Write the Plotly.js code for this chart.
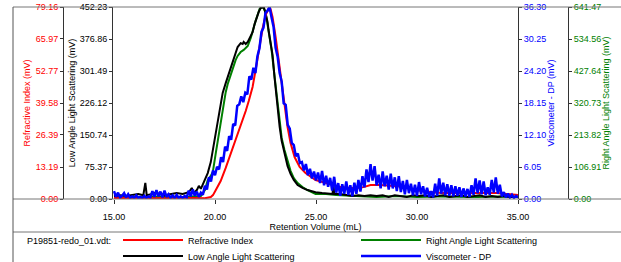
<!DOCTYPE html>
<html><head><meta charset="utf-8">
<script src="https://cdn.plot.ly/plotly-3.0.1.min.js"></script>
<style>html,body{margin:0;padding:0;background:#fff}#chart{width:621px;height:262px}</style>
</head><body><div id="chart"></div>
<script>
// ---- data ----
const riX=[15.0,16.0,17.0,18.0,19.0,19.5,19.79,19.9,20.04,20.28,20.53,20.78,21.02,21.27,21.52,21.67,21.86,22.01,22.16,22.36,22.51,22.65,22.7,22.75,22.85,23.0,23.1,23.2,23.3,23.44,23.59,23.74,23.94,24.19,24.48,24.98,25.47,25.9,26.2,26.7,27.0,27.35,27.7,28.2,28.8,29.5,29.8,30.2,30.65,31.2,32.0,33.0,33.96,34.4,35.0];
const riY=[0.4,0.3,0.4,0.3,0.4,0.3,0.8,1.6,3.7,7.4,12.8,18.6,24.3,30.1,36.3,40.4,46.2,53.2,61.4,70.5,75.9,78.7,79.16,78.3,75.0,66.8,60.6,54.4,47.0,37.9,29.7,23.1,17.3,13.2,10.7,7.8,6.6,5.8,4.9,4.5,4.5,4.9,5.8,5.8,5.4,4.9,4.1,3.3,2.9,2.5,2.5,2.5,2.5,2.1,1.6];

const ralsX=[15.0,15.5,16.0,16.5,17.0,17.5,18.0,18.5,19.0,19.3,19.5,19.64,19.79,19.89,20.04,20.14,20.28,20.38,20.53,20.63,20.78,20.88,21.02,21.12,21.27,21.42,21.52,21.62,21.77,21.91,22.01,22.11,22.21,22.31,22.41,22.51,22.6,22.7,22.8,22.9,23.0,23.1,23.2,23.3,23.44,23.59,23.74,23.9,24.09,24.33,24.58,24.98,25.5,26.0,27.0,28.0,29.0,30.0,31.0,32.0,33.0,34.0,35.0];
const ralsY=[7,5,7,5,8,7,5,7,8,10,30,63,77,90,154,197,257,304,357,384,418,438,464,478,491,498,505,511,538,575,595,615,635,641,638,621,585,548,498,438,381,314,251,204,164,124,94,70,53,40,30,17,17,13,10,7,10,7,8,7,7,8,7];

const lalsX=[15.0,15.3,15.6,15.9,16.2,16.45,16.55,16.62,16.9,17.1,17.2,17.5,17.8,18.1,18.4,18.7,18.85,18.95,19.1,19.2,19.3,19.4,19.5,19.64,19.79,19.89,20.04,20.14,20.28,20.38,20.53,20.63,20.78,20.88,21.02,21.12,21.27,21.37,21.42,21.52,21.62,21.72,21.86,21.96,22.06,22.16,22.26,22.36,22.41,22.46,22.51,22.6,22.65,22.75,22.85,22.95,23.0,23.1,23.2,23.3,23.44,23.59,23.74,23.9,24.09,24.33,24.58,24.98,25.3,25.6,25.82,25.86,25.9,26.2,26.5,26.8,27.1,27.4,27.7,28.0,28.3,28.6,28.9,29.2,29.5,29.8,30.1,30.4,30.7,31.0,31.3,31.6,31.9,32.2,32.5,32.8,33.1,33.4,33.7,34.0,34.3,34.6,35.0];
const lalsY=[7,9,7,9,12,9,38,9,12,16,12,9,12,14,12,16,26,14,21,31,24,35,42,61,87,115,155,186,226,250,273,287,309,327,344,358,367,365,370,365,370,379,393,412,429,440,450,452,452,445,436,417,398,363,339,285,261,214,170,137,108,78,59,45,33,26,21,16,14,12,12,38,12,12,9,7,9,7,9,7,9,5,9,7,5,9,7,9,5,7,9,5,7,9,5,7,9,5,7,5,7,5,5];

// viscometer: one reading every 0.1 mL from 15.0 to 35.0
const viscStart=15.0, viscStep=0.1;
const viscY=[
1.5,0.4,1.2,0.3,0.6,1.1,0.3,0.9,0.2,0.5,
0.2,0.7,0.2,0.4,0.2,0.6,0.2,0.5,0.3,1.5,
0.4,1.7,0.5,1.4,0.3,1.6,0.4,0.9,0.2,0.7,
0.2,0.8,0.2,0.5,0.2,0.6,0.3,1.6,0.5,1.8,
0.6,1.4,0.4,1.2,0.8,2.5,1.8,4.1,3.3,5.4,
4.5,6.1,5.6,7.9,7.0,9.9,9.1,11.9,11.2,14.2,
13.9,17.6,17.9,19.4,18.3,20.1,19.8,23.2,22.6,24.8,
23.8,27.0,28.5,31.6,32.4,35.2,35.6,36.3,34.3,32.5,
28.6,26.9,23.8,22.2,18.1,17.8,14.0,13.3,10.6,10.2,
8.1,8.6,6.8,7.0,5.4,6.6,4.5,5.7,3.9,5.2,
3.5,5.0,3.0,5.3,2.6,4.4,2.3,4.0,1.6,4.2,
1.2,3.0,0.6,2.8,1.0,3.3,0.8,2.6,0.5,3.1,
1.0,3.6,1.4,4.3,2.2,5.6,3.2,6.6,3.5,6.2,
2.6,4.6,2.0,5.2,2.4,4.4,1.8,4.8,2.0,4.1,
1.5,4.3,1.3,3.4,0.9,3.6,1.1,2.9,0.7,2.7,
0.6,3.2,0.9,2.4,0.5,2.1,0.4,1.5,0.3,2.9,
0.6,3.9,1.0,3.1,0.7,2.8,0.6,2.6,0.5,2.4,
0.6,2.2,0.4,2.0,0.5,1.9,0.4,2.6,0.8,3.9,
1.1,3.5,0.9,3.3,0.7,2.2,0.8,3.6,1.2,4.1,
1.0,2.7,0.5,1.3,0.3,1.0,0.3,0.8,0.2,0.6,
0.3];

const xTicks=[15,20,25,30,35];
const riTicks=[0,13.19,26.39,39.58,52.77,65.97,79.16];
const lalsTicks=[0,75.37,150.74,226.12,301.49,376.86,452.23];
const viscTicks=[0,6.05,12.10,18.15,24.20,30.25,36.30];
const ralsTicks=[0,106.91,213.82,320.73,427.64,534.56,641.47];

const names=['Refractive Index','Right Angle Light Scattering','Low Angle Light Scattering','Viscometer - DP'];
const fileLabel='P19851-redo_01.vdt:';

// ---- layout geometry (pixels) ----
const W=621,H=262, PL=63, PR=568, PT=7, PB=199;
const fx=p=>(p-PL)/(PR-PL), fy=p=>(PB-p)/(PB-PT);
const FONT='"Liberation Sans", Arial, sans-serif';
const RED='#ff0000', GREEN='#008000', BLUE='#0000ff', BLACK='#000000';

function yax(extra){
  return Object.assign({
    showgrid:false, zeroline:false, showline:true, linecolor:'#333', linewidth:1,
    ticks:'outside', ticklen:3, tickcolor:'#333', tickformat:'.2f', fixedrange:true
  }, extra);
}

const data=[
 {x:riX,y:riY,name:names[0],type:'scatter',mode:'lines',yaxis:'y3',legend:'legend',line:{color:RED,width:2}},
 {x:ralsX,y:ralsY,name:names[1],type:'scatter',mode:'lines',yaxis:'y',legend:'legend',line:{color:GREEN,width:2}},
 {x:lalsX,y:lalsY,name:names[2],type:'scatter',mode:'lines',yaxis:'y2',legend:'legend2',line:{color:BLACK,width:2}},
 {x0:viscStart,dx:viscStep,y:viscY,name:names[3],type:'scatter',mode:'lines',yaxis:'y4',legend:'legend2',line:{color:BLUE,width:2.5}}
];

const hl=(y)=>({type:'line',xref:'paper',yref:'paper',x0:fx(13),x1:fx(621),y0:fy(y),y1:fy(y),line:{color:'#777',width:1}});
const vl=(x,y0,y1)=>({type:'line',xref:'paper',yref:'paper',x0:fx(x),x1:fx(x),y0:fy(y0),y1:fy(y1),line:{color:'#555',width:1}});
const leg=(yc)=>({orientation:'h',x:fx(118),y:fy(yc),xanchor:'left',yanchor:'middle',
    entrywidth:163,entrywidthmode:'pixels',font:{size:9,color:'#000'},bgcolor:'rgba(0,0,0,0)',
    tracegroupgap:0,itemwidth:60});

const layout={
  width:W,height:H,
  margin:{l:PL,r:W-PR,t:PT,b:H-PB,autoexpand:false},
  paper_bgcolor:'#fff',plot_bgcolor:'#fff',
  font:{family:FONT,size:9,color:'#000'},
  showlegend:true,
  legend:leg(240),
  legend2:leg(256),
  xaxis:{domain:[fx(113),fx(518)],range:[14.95,35.0],tickvals:xTicks,tickformat:'.2f',
    ticks:'outside',ticklen:4,tickcolor:'#333',showgrid:false,zeroline:false,showline:false,
    ticklabelstandoff:5,
    tickfont:{size:9},title:{text:'Retention Volume (mL)',font:{size:9},standoff:1},fixedrange:true},
  yaxis:yax({range:[0,641.47],tickvals:ralsTicks,side:'right',anchor:'free',position:1,
    tickfont:{size:9,color:GREEN},title:{text:'Right Angle Light Scattering (mV)',font:{size:9,color:GREEN},standoff:2}}),
  yaxis2:yax({range:[0,452.23],tickvals:lalsTicks,side:'left',anchor:'x',overlaying:'y',
    tickfont:{size:9,color:BLACK},title:{text:'Low Angle Light Scattering (mV)',font:{size:9,color:BLACK},standoff:2}}),
  yaxis3:yax({range:[0,79.16],tickvals:riTicks,side:'left',anchor:'free',position:0,overlaying:'y',
    tickfont:{size:9,color:RED},title:{text:'Refractive Index (mV)',font:{size:9,color:RED},standoff:2}}),
  yaxis4:yax({range:[0,36.30],tickvals:viscTicks,side:'right',anchor:'x',overlaying:'y',
    tickfont:{size:9,color:BLUE},title:{text:'Viscometer - DP (mV)',font:{size:9,color:BLUE},standoff:2}}),
  shapes:[hl(PT),hl(PB),hl(232),vl(13,PT,H)],
  annotations:[{text:fileLabel,xref:'paper',yref:'paper',x:fx(25),y:fy(241),xanchor:'left',yanchor:'middle',showarrow:false,font:{size:9,color:'#000'}}]
};

Plotly.newPlot('chart',data,layout,{staticPlot:true,displayModeBar:false});
</script></body></html>
